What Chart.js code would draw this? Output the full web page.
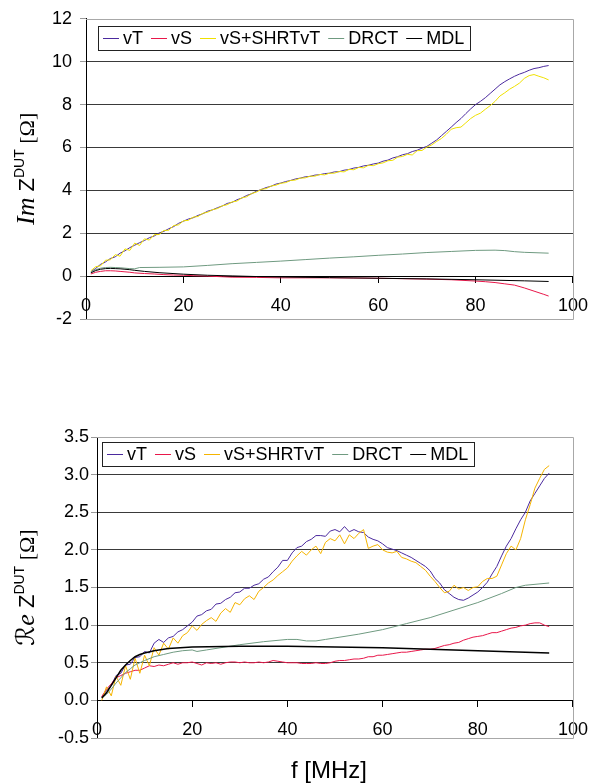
<!DOCTYPE html>
<html>
<head>
<meta charset="utf-8">
<script src="https://cdn.jsdelivr.net/npm/chart.js@4.4.0/dist/chart.umd.min.js"></script>
<style>
  html, body { margin: 0; padding: 0; background: #fff; }
  #wrap { position: relative; width: 601px; height: 783px; }
  canvas { position: absolute; left: 0; }
  #im-chart { top: 0; }
  #re-chart { top: 420px; }
</style>
</head>
<body>
<div id="wrap">
  <canvas id="im-chart" width="601" height="340"></canvas>
  <canvas id="re-chart" width="601" height="363"></canvas>
</div>
<script>
// ── Measured data (f in MHz, impedance in Ohm) ───────────────────
const freq = [1,2,3,4,5,6,7,8,9,10,11,12,13,14,15,16,17,18,19,20,21,22,23,24,25,26,27,28,29,30,
  31,32,33,34,35,36,37,38,39,40,41,42,43,44,45,46,47,48,49,50,51,52,53,54,55,56,57,58,59,60,
  61,62,63,64,65,66,67,68,69,70,71,72,73,74,75,76,77,78,79,80,81,82,83,84,85,86,87,88,89,90,
  91,92,93,94,95];

// Im Z
const imVT = [0.20,0.36,0.55,0.66,0.82,0.90,1.07,1.18,1.33,1.44,1.56,1.66,1.79,1.87,2.01,2.09,2.21,2.31,2.46,2.56,
  2.66,2.72,2.83,2.91,3.03,3.09,3.19,3.27,3.39,3.44,3.56,3.64,3.76,3.84,3.96,4.04,4.13,4.19,4.29,4.34,
  4.41,4.46,4.53,4.57,4.63,4.65,4.71,4.73,4.78,4.80,4.86,4.87,4.94,4.97,5.04,5.07,5.14,5.17,5.23,5.27,
  5.36,5.41,5.51,5.57,5.66,5.71,5.81,5.87,5.97,6.05,6.20,6.35,6.55,6.75,6.95,7.16,7.35,7.58,7.80,8.00,
  8.15,8.32,8.52,8.72,8.92,9.07,9.20,9.32,9.42,9.50,9.60,9.68,9.72,9.78,9.82];
const imShrt = [0.25,0.44,0.48,0.74,0.76,1.00,0.93,1.27,1.20,1.54,1.43,1.74,1.68,1.93,1.94,2.13,2.14,2.36,2.39,2.58,
  2.60,2.75,2.78,2.93,2.98,3.10,3.15,3.28,3.33,3.46,3.50,3.65,3.70,3.85,3.92,4.05,4.08,4.20,4.24,4.33,
  4.36,4.46,4.48,4.57,4.58,4.66,4.66,4.74,4.72,4.80,4.80,4.88,4.86,4.98,4.96,5.07,5.05,5.17,5.15,5.24,
  5.28,5.38,5.40,5.55,5.58,5.68,5.65,5.85,5.86,6.02,6.12,6.28,6.42,6.62,6.85,6.92,6.95,7.15,7.35,7.50,
  7.60,7.78,7.95,8.15,8.40,8.55,8.72,8.85,9.00,9.22,9.35,9.40,9.32,9.25,9.15];
const imVSFreq = [1,2,3,4,5,6,7,8,9,10,12,14,16,18,20,22,25,28,30,35,40,45,50,55,60,65,70,75,80,82,84,86,88,90,92,94,95];
const imVS = [0.10,0.18,0.22,0.25,0.25,0.24,0.22,0.20,0.18,0.15,0.12,0.10,0.07,0.05,0.04,0.02,0.00,-0.03,-0.05,-0.06,
  -0.08,-0.08,-0.08,-0.09,-0.10,-0.12,-0.14,-0.17,-0.23,-0.26,-0.30,-0.36,-0.42,-0.55,-0.70,-0.85,-0.93];
const imDrctFreq = [1,2,3,4,5,6,7,8,9,10,11,15,20,25,30,35,40,45,50,55,60,65,70,75,80,84,86,88,90,95];
const imDrct = [0.20,0.30,0.37,0.40,0.41,0.40,0.39,0.37,0.35,0.34,0.40,0.41,0.43,0.50,0.58,0.64,0.70,0.77,0.84,0.90,
  0.97,1.03,1.10,1.15,1.20,1.21,1.19,1.14,1.11,1.07];
const imMdlFreq = [1,2,3,4,5,6,7,8,9,10,12,15,20,25,30,35,40,50,60,70,80,90,95];
const imMdl = [0.15,0.26,0.32,0.35,0.36,0.35,0.34,0.32,0.30,0.27,0.22,0.16,0.09,0.04,0.01,-0.02,-0.04,-0.07,-0.10,-0.13,
  -0.17,-0.22,-0.25];

// Re Z
const reVT = [0.05,0.13,0.20,0.33,0.36,0.47,0.48,0.57,0.58,0.65,0.63,0.76,0.81,0.77,0.83,0.85,0.91,0.94,0.99,1.04,
  1.12,1.14,1.19,1.21,1.28,1.29,1.34,1.37,1.43,1.44,1.49,1.49,1.53,1.55,1.61,1.64,1.71,1.77,1.86,1.86,
  1.96,2.03,2.05,2.11,2.14,2.19,2.19,2.18,2.25,2.27,2.24,2.31,2.24,2.27,2.24,2.23,2.17,2.14,2.12,2.08,
  2.03,2.01,1.99,1.96,1.93,1.90,1.86,1.82,1.78,1.72,1.62,1.56,1.47,1.42,1.37,1.34,1.33,1.36,1.40,1.44,
  1.50,1.57,1.68,1.78,1.92,2.05,2.15,2.28,2.40,2.50,2.65,2.75,2.85,2.95,3.02];
const reShrt = [0.00,0.18,0.06,0.32,0.20,0.46,0.28,0.56,0.36,0.60,0.46,0.70,0.60,0.76,0.68,0.83,0.76,0.86,0.90,0.99,
  0.93,1.01,1.06,1.10,1.05,1.16,1.22,1.17,1.30,1.27,1.35,1.39,1.34,1.45,1.50,1.56,1.60,1.66,1.71,1.76,
  1.85,1.92,1.98,1.93,2.00,2.05,1.95,2.10,2.15,2.12,2.20,2.08,2.20,2.15,2.22,2.27,2.02,2.05,2.07,2.00,
  1.97,1.96,1.98,1.90,1.88,1.85,1.83,1.78,1.73,1.65,1.58,1.50,1.43,1.45,1.53,1.48,1.50,1.46,1.50,1.51,
  1.58,1.62,1.62,1.65,1.80,1.95,2.05,2.00,2.15,2.40,2.60,2.82,2.95,3.07,3.12];
const reVS = [0.05,0.15,0.22,0.30,0.33,0.36,0.38,0.40,0.40,0.43,0.46,0.45,0.47,0.46,0.48,0.50,0.48,0.50,0.50,0.51,
  0.49,0.47,0.50,0.49,0.50,0.48,0.50,0.51,0.51,0.50,0.51,0.50,0.50,0.51,0.50,0.51,0.53,0.52,0.51,0.50,
  0.50,0.50,0.49,0.49,0.49,0.50,0.49,0.49,0.50,0.52,0.53,0.53,0.54,0.55,0.55,0.56,0.58,0.58,0.60,0.60,
  0.61,0.62,0.63,0.64,0.64,0.65,0.66,0.67,0.68,0.68,0.69,0.71,0.73,0.74,0.76,0.77,0.80,0.82,0.84,0.85,
  0.86,0.88,0.90,0.90,0.92,0.94,0.96,0.97,0.99,1.00,1.02,1.03,1.03,1.00,0.98];
const reDrctFreq = [1,2,3,4,5,6,7,8,9,10,12,14,16,18,20,21,23,25,30,35,40,42,44,46,48,50,55,60,65,70,75,80,85,88,90,95];
const reDrct = [0.03,0.08,0.15,0.23,0.30,0.37,0.42,0.47,0.50,0.53,0.58,0.61,0.64,0.66,0.67,0.65,0.67,0.69,0.74,0.78,
  0.81,0.81,0.79,0.79,0.81,0.83,0.88,0.94,1.02,1.10,1.20,1.30,1.42,1.50,1.53,1.56];
const reMdlFreq = [1,2,3,4,5,6,7,8,9,10,12,15,20,30,40,50,60,70,80,90,95];
const reMdl = [0.03,0.10,0.20,0.30,0.40,0.47,0.53,0.58,0.61,0.63,0.66,0.69,0.71,0.72,0.72,0.71,0.70,0.68,0.66,0.64,0.63];

const seriesLabels = ['vT', 'vS', 'vS+SHRTvT', 'DRCT', 'MDL'];
const xTicks = { min: 0, max: 100, step: 20 };

// ── Styling ──────────────────────────────────────────────────────
const C = { vT: '#4b2a9e', vS: '#e8174a', shrtIm: '#efe000', shrtRe: '#f5b400', drct: '#6f9a80', mdl: '#000000' };
const TICK_FONT = { family: '"Liberation Sans", Arial, sans-serif', size: 18 };
const LEGEND_FONT = '18px "Liberation Sans", Arial, sans-serif';
const SANS = '"Liberation Sans", Arial, sans-serif';
const SERIF = '"Liberation Serif", serif';

const pts = (xs, ys) => xs.map((x, i) => ({ x, y: ys[i] }));

const datasets = (sets) => sets.map((s, i) => ({
  label: seriesLabels[i], data: pts(s.x, s.y), borderColor: s.color, backgroundColor: s.color,
  borderWidth: s.width || 1, pointRadius: 0, tension: 0, order: sets.length - i
}));

// ── Plugins: frame, legend box, axis titles ──────────────────────
const frame = {
  id: 'frame',
  beforeDatasetsDraw(chart) {
    const { left, right, top, bottom } = chart.chartArea;
    const ctx = chart.ctx;
    ctx.save();
    ctx.strokeStyle = '#a8a8a8';
    ctx.lineWidth = 1;
    ctx.beginPath();
    ctx.moveTo(left, Math.round(top) + 0.5);
    ctx.lineTo(Math.round(right) + 0.5, Math.round(top) + 0.5);
    ctx.lineTo(Math.round(right) + 0.5, Math.round(bottom) + 0.5);
    ctx.lineTo(left, Math.round(bottom) + 0.5);
    ctx.stroke();
    ctx.restore();
  }
};

const boxLegend = {
  id: 'boxLegend',
  afterDraw(chart, args, opts) {
    const ctx = chart.ctx, b = opts.box;
    ctx.save();
    ctx.fillStyle = '#fff';
    ctx.fillRect(b.x, b.y, b.w, b.h);
    ctx.strokeStyle = '#222';
    ctx.lineWidth = 1;
    ctx.strokeRect(b.x + 0.5, b.y + 0.5, b.w, b.h);
    ctx.font = LEGEND_FONT;
    ctx.textBaseline = 'middle';
    const midY = Math.round(b.y + b.h / 2) + 0.5;
    let x = b.x + 5;
    chart.data.datasets.forEach(ds => {
      ctx.strokeStyle = ds.borderColor;
      ctx.beginPath(); ctx.moveTo(x, midY); ctx.lineTo(x + 16, midY); ctx.stroke();
      ctx.fillStyle = '#000';
      ctx.fillText(ds.label, x + 20, midY + 1);
      x += 20 + ctx.measureText(ds.label).width + 8;
    });
    ctx.restore();
  }
};

const axisTitles = {
  id: 'axisTitles',
  afterDraw(chart, args, opts) {
    const ctx = chart.ctx, ca = chart.chartArea;
    ctx.save();
    ctx.fillStyle = '#000';
    ctx.textBaseline = 'alphabetic';
    // rotated y title built from pieces (script part, Z, superscript, unit)
    ctx.translate(opts.yTitleX, (ca.top + ca.bottom) / 2);
    ctx.rotate(-Math.PI / 2);
    let total = 0;
    opts.yParts.forEach(p => { ctx.font = p.font; p.w = ctx.measureText(p.text).width; total += p.w; });
    let x = -total / 2;
    opts.yParts.forEach(p => { ctx.font = p.font; ctx.fillText(p.text, x, p.dy || 0); x += p.w; });
    ctx.restore();
    if (opts.xTitle) {
      ctx.save();
      ctx.font = '24px ' + SANS;
      ctx.textAlign = 'center';
      ctx.textBaseline = 'alphabetic';
      ctx.fillStyle = '#000';
      ctx.fillText(opts.xTitle, opts.xTitleX, opts.xTitleY);
      ctx.restore();
    }
  }
};

const makeOptions = (cfg) => ({
  responsive: false,
  animation: false,
  events: [],
  layout: { padding: cfg.padding },
  plugins: {
    legend: { display: false },
    tooltip: { enabled: false },
    boxLegend: { box: cfg.legendBox },
    axisTitles: cfg.titles
  },
  scales: {
    x: {
      type: 'linear', min: xTicks.min, max: xTicks.max, position: { y: 0 },
      ticks: { stepSize: xTicks.step, color: '#000', font: TICK_FONT, padding: 13, maxRotation: 0, autoSkip: false },
      grid: { drawOnChartArea: false, color: '#000', tickLength: 6 },
      border: { color: '#000' }
    },
    y: {
      type: 'linear', min: cfg.yMin, max: cfg.yMax,
      afterFit: s => { s.width = cfg.yWidth; },
      ticks: { stepSize: cfg.yStep, color: '#000', font: TICK_FONT, padding: cfg.yPad, autoSkip: false, callback: cfg.yFmt },
      grid: {
        color: c => (c.tick && (c.tick.value === cfg.yMin || c.tick.value === cfg.yMax)) ? 'rgba(0,0,0,0)' : '#3a3a3a',
        tickColor: '#999', tickLength: 6
      },
      border: { color: '#000' }
    }
  }
});

// ── Im Z chart ───────────────────────────────────────────────────
new Chart(document.getElementById('im-chart'), {
  type: 'line',
  data: {
    datasets: datasets([
      { x: freq, y: imVT, color: C.vT },
      { x: imVSFreq, y: imVS, color: C.vS },
      { x: freq, y: imShrt, color: C.shrtIm },
      { x: imDrctFreq, y: imDrct, color: C.drct },
      { x: imMdlFreq, y: imMdl, color: C.mdl }
    ])
  },
  options: makeOptions({
    padding: { top: 18, right: 25, bottom: 21, left: 0 },
    yWidth: 86, yMin: -2, yMax: 12, yStep: 2, yPad: 8, yFmt: v => String(v),
    legendBox: { x: 98, y: 26, w: 372, h: 24 },
    titles: {
      yTitleX: 34,
      yParts: [
        { text: 'Im', font: 'italic 26px ' + SERIF },
        { text: ' Z', font: '22px ' + SANS },
        { text: 'DUT', font: '14px ' + SANS, dy: -10 },
        { text: ' [\u03A9]', font: '22px ' + SERIF }
      ]
    }
  }),
  plugins: [frame, boxLegend, axisTitles]
});

// ── Re Z chart ───────────────────────────────────────────────────
new Chart(document.getElementById('re-chart'), {
  type: 'line',
  data: {
    datasets: datasets([
      { x: freq, y: reVT, color: C.vT },
      { x: freq, y: reVS, color: C.vS },
      { x: freq, y: reShrt, color: C.shrtRe },
      { x: reDrctFreq, y: reDrct, color: C.drct },
      { x: reMdlFreq, y: reMdl, color: C.mdl, width: 1.5 }
    ])
  },
  options: makeOptions({
    padding: { top: 17, right: 25, bottom: 45, left: 0 },
    yWidth: 97, yMin: -0.5, yMax: 3.5, yStep: 0.5, yPad: 2, yFmt: v => v.toFixed(1),
    legendBox: { x: 102, y: 22, w: 372, h: 24 },
    titles: {
      yTitleX: 34,
      yParts: [
        { text: '\u211B', font: '25px "DejaVu Serif", "DejaVu Sans", serif' },
        { text: 'e', font: 'italic 26px ' + SERIF },
        { text: ' Z', font: '22px ' + SANS },
        { text: 'DUT', font: '14px ' + SANS, dy: -10 },
        { text: ' [\u03A9]', font: '22px ' + SERIF }
      ],
      xTitle: 'f [MHz]', xTitleX: 329, xTitleY: 358
    }
  }),
  plugins: [frame, boxLegend, axisTitles]
});
</script>
</body>
</html>
